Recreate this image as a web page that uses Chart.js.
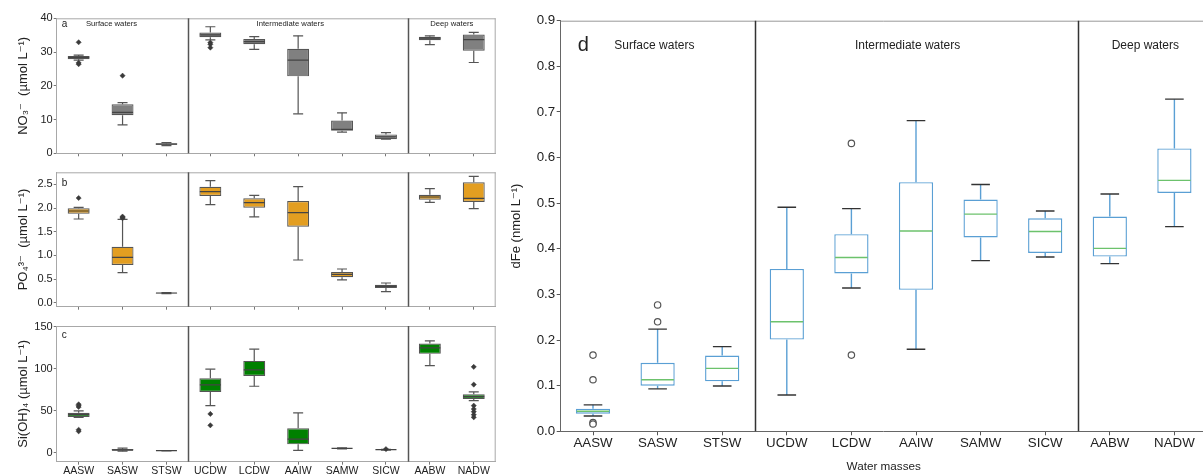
<!DOCTYPE html>
<html><head><meta charset="utf-8">
<script src="https://cdn.jsdelivr.net/npm/chart.js@4.4.1/dist/chart.umd.min.js"></script>
<style>
html,body{margin:0;padding:0;background:#fff;width:1203px;height:474px;overflow:hidden;position:relative}
canvas{position:absolute}
</style></head><body>
<canvas id="ca" width="520" height="165" style="left:0;top:0"></canvas>
<canvas id="cb" width="520" height="155" style="left:0;top:162px"></canvas>
<canvas id="cc" width="520" height="158" style="left:0;top:316px"></canvas>
<canvas id="cd" width="720" height="474" style="left:500px;top:0"></canvas>
<script>
const FONT = "'Liberation Sans', Arial, 'DejaVu Sans', sans-serif";
const categories = ['AASW','SASW','STSW','UCDW','LCDW','AAIW','SAMW','SICW','AABW','NADW'];
const groupLabels = ['Surface waters','Intermediate waters','Deep waters'];

// Panel a: NO3- (µmol/L)
const no3Low    = [27.6, 8.4, 2.3, 33.6, 30.8, 11.7, 6.3, 4.2, 32.2, 26.9];
const no3Q1     = [27.9, 11.3, 2.5, 34.4, 32.3, 22.8, 6.7, 4.2, 33.5, 30.4];
const no3Median = [28.4, 12.1, 2.7, 35.1, 33.1, 27.6, 7.1, 4.9, 34.1, 33.7];
const no3Q3     = [28.8, 14.5, 3.0, 35.8, 33.9, 31.0, 9.7, 5.6, 34.5, 35.2];
const no3High   = [29.1, 15.0, 3.2, 37.5, 34.6, 34.8, 12.0, 6.1, 34.8, 35.8];
const no3Outliers = [[32.9, 26.8, 26.4], [23.0], [], [32.8, 32.3, 31.3], [], [], [], [], [], []];
const no3Ticks = [0, 10, 20, 30, 40];

// Panel b: PO4 3- (µmol/L)
const po4Low    = [1.768, 0.634, 0.19, 2.071, 1.811, 0.902, 0.480, 0.233, 2.121, 1.986];
const po4Q1     = [1.880, 0.796, 0.195, 2.254, 2.007, 1.606, 0.536, 0.311, 2.176, 2.128];
const po4Median = [1.937, 0.959, 0.205, 2.345, 2.113, 1.902, 0.600, 0.346, 2.233, 2.206];
const po4Q3     = [1.994, 1.183, 0.21, 2.451, 2.205, 2.149, 0.649, 0.380, 2.282, 2.544];
const po4High   = [2.015, 1.762, 0.215, 2.578, 2.269, 2.451, 0.712, 0.416, 2.409, 2.670];
const po4Outliers = [[2.212], [1.82, 1.80, 1.785], [], [], [], [], [], [], [], []];
const po4Ticks = [0, 0.5, 1.0, 1.5, 2.0, 2.5];

// Panel c: Si(OH)4 (µmol/L)
const siLow    = [42.0, 1.8, 2.4, 56.1, 79.2, 2.8, 4.6, 3.2, 103.8, 62.0];
const siQ1     = [42.6, 2.6, 2.4, 72.4, 91.5, 10.0, 5.0, 3.4, 117.8, 64.1];
const siMedian = [45.3, 3.2, 2.4, 80.8, 98.7, 16.3, 5.2, 3.6, 124.9, 66.8];
const siQ3     = [47.7, 4.5, 2.4, 88.8, 109.4, 29.1, 5.4, 3.8, 130.1, 69.7];
const siHigh   = [49.8, 5.5, 2.4, 99.5, 123.4, 47.4, 5.8, 4.0, 133.3, 72.4];
const siOutliers = [[57.7, 56.1, 54.5, 27.4, 25.5], [], [], [46.2, 32.7], [], [], [], [4.3], [], [102.3, 81.2, 56.1, 52.1, 48.9, 45.3, 42.2]];
const siTicks = [0, 50, 100, 150];

// Panel d: dFe (nmol/L)
const dfeLow    = [0.0336, 0.093, 0.0993, 0.0796, 0.314, 0.180, 0.374, 0.382, 0.3676, 0.4487];
const dfeQ1     = [0.0386, 0.100, 0.1096, 0.201, 0.346, 0.310, 0.425, 0.391, 0.383, 0.5226];
const dfeMedian = [0.044, 0.113, 0.138, 0.240, 0.381, 0.439, 0.476, 0.438, 0.401, 0.550];
const dfeQ3     = [0.0496, 0.150, 0.166, 0.356, 0.432, 0.546, 0.508, 0.467, 0.4706, 0.620];
const dfeHigh   = [0.058, 0.224, 0.1856, 0.491, 0.488, 0.681, 0.541, 0.483, 0.520, 0.728];
const dfeOutliers = [[0.167, 0.113, 0.019, 0.016], [0.277, 0.240], [], [], [0.631, 0.167], [], [], [], [], []];
const dfeTicks = [0, 0.1, 0.2, 0.3, 0.4, 0.5, 0.6, 0.7, 0.8, 0.9];

function boxDatasets(s, st) {
  const outPts = [];
  s.out.forEach((arr, i) => arr.forEach(v => outPts.push({x: categories[i], y: v})));
  const pt = (data, r, color, w) => ({type:'line', data, showLine:false, pointStyle:'line',
    pointRadius:r, pointHoverRadius:r, pointBorderColor:color, pointBorderWidth:w, pointBackgroundColor:color});
  const bar = (data, extra) => Object.assign({type:'bar', data, grouped:false, categoryPercentage:1,
    borderSkipped:false}, extra);
  return [
    {type:'line', data: outPts, showLine:false, pointStyle: st.outStyle, pointRadius: st.outR,
     pointHoverRadius: st.outR, pointBackgroundColor: st.outFill, pointBorderColor: st.outEdge,
     pointBorderWidth: st.outBW},
    pt(s.med, st.medR, st.medColor, st.medW),
    pt(s.lo, st.capR, st.capColor, st.capW),
    pt(s.hi, st.capR, st.capColor, st.capW),
    bar(s.q1.map((v, i) => [v, s.q3[i]]), {backgroundColor: st.fill, borderColor: st.edge,
      borderWidth: st.edgeW, barPercentage: st.boxPct}),
    bar(s.lo.map((v, i) => [v, s.q1[i]]), {backgroundColor: st.whisk, borderWidth:0,
      barPercentage:0.2, maxBarThickness: st.whiskW}),
    bar(s.q3.map((v, i) => [v, s.hi[i]]), {backgroundColor: st.whisk, borderWidth:0,
      barPercentage:0.2, maxBarThickness: st.whiskW})
  ];
}

function decor(o) {
  return {
    id: 'decor',
    afterDatasetsDraw(chart) {
      const {ctx, chartArea: a, scales: {x}} = chart;
      ctx.save();
      ctx.strokeStyle = o.frameColor; ctx.lineWidth = 1;
      ctx.beginPath();
      ctx.moveTo(a.left, a.top + 0.5); ctx.lineTo(a.right, a.top + 0.5);
      ctx.moveTo(a.right - 0.5, a.top); ctx.lineTo(a.right - 0.5, a.bottom);
      ctx.stroke();
      ctx.strokeStyle = o.sepColor; ctx.lineWidth = o.sepW;
      [2.5, 7.5].forEach(v => {
        const px = Math.round(x.getPixelForValue(v)) + 0.5;
        ctx.beginPath(); ctx.moveTo(px, a.top); ctx.lineTo(px, a.bottom); ctx.stroke();
      });
      ctx.fillStyle = '#222';
      ctx.textBaseline = 'middle';
      if (o.letter) {
        ctx.font = o.letterFont + 'px ' + FONT;
        ctx.textAlign = 'left';
        ctx.fillText(o.letter, a.left + o.letterDx, a.top + o.letterDy);
      }
      if (o.groups) {
        ctx.font = o.groupFont + 'px ' + FONT;
        ctx.textAlign = 'center';
        o.groupPos.forEach((v, i) => ctx.fillText(groupLabels[i], x.getPixelForValue(v), a.top + o.groupDy));
      }
      ctx.restore();
    }
  };
}

function makeChart(id, s, st, o) {
  new Chart(document.getElementById(id), {
    type: 'bar',
    data: { labels: categories, datasets: boxDatasets(s, st) },
    options: {
      responsive: false, animation: false, devicePixelRatio: 1,
      layout: { autoPadding: false, padding: { left: 0, top: o.padTop, right: o.padRight, bottom: 0 } },
      plugins: { legend: { display: false }, tooltip: { enabled: false } },
      scales: {
        x: { type: 'category', offset: true,
          grid: { offset: false, drawOnChartArea: false, drawTicks: true, tickLength: o.xTickLen, color: o.tickColor },
          border: { display: true, color: o.xBorder, width: 1 },
          ticks: { display: o.showX, font: { family: FONT, size: o.xFont }, color: '#222', padding: o.xPad,
                   maxRotation: 0, autoSkip: false },
          title: o.xTitle ? { display: true, text: o.xTitle, font: { family: FONT, size: o.xTitleFont }, color: '#222',
                   padding: { top: 0, bottom: 0 } } : { display: false },
          afterFit: sc => { sc.height = o.xHeight; } },
        y: { type: 'linear', min: o.min, max: o.max,
          afterBuildTicks: sc => { sc.ticks = o.ticks.map(v => ({ value: v })); },
          grid: { drawOnChartArea: false, drawTicks: true, tickLength: o.yTickLen, color: o.tickColor },
          border: { display: true, color: o.yBorder, width: 1 },
          ticks: { font: { family: FONT, size: o.yFont }, color: '#222', padding: o.yPad, callback: v => o.fmt(v) },
          title: { display: true, text: o.yTitle, font: { family: FONT, size: o.yTitleFont }, color: '#222',
                   padding: { top: o.yTitlePad, bottom: 0 } },
          afterFit: sc => { sc.width = o.yWidth; } }
      }
    },
    plugins: [decor(o)]
  });
}

const leftStyle = (fill) => ({ fill, edge: '#555', edgeW: 1.2, boxPct: 0.5, medR: 10.5, medColor: '#444', medW: 1.2,
  capR: 5, capColor: '#555', capW: 1.2, whisk: '#555', whiskW: 1.2,
  outStyle: 'rectRot', outR: 2.6, outFill: '#3a3a3a', outEdge: '#3a3a3a', outBW: 0.5 });

const leftOpts = {
  padRight: 24.3, yWidth: 56.7, xTickLen: 3, yTickLen: 3, tickColor: '#777', xBorder: '#a8a8a8', yBorder: '#a8a8a8',
  frameColor: '#a8a8a8', sepColor: '#555', sepW: 1.5, xFont: 10.5, xPad: 0, yFont: 11, yPad: 1,
  yTitleFont: 13, yTitlePad: 15.2, letterFont: 10, letterDx: 5, letterDy: 6
};

makeChart('ca', { lo: no3Low, q1: no3Q1, med: no3Median, q3: no3Q3, hi: no3High, out: no3Outliers },
  leftStyle('#808080'),
  Object.assign({}, leftOpts, { padTop: 18.3, xHeight: 11.7, showX: false, min: 0, max: 40, ticks: no3Ticks,
    fmt: v => String(Math.round(v)), yTitle: 'NO\u2083\u207B  (\u00B5mol L\u207B\u00B9)', letter: 'a',
    groups: true, groupFont: 7.7, groupPos: [0.75, 4.82, 8.5], groupDy: 6 }));

makeChart('cb', { lo: po4Low, q1: po4Q1, med: po4Median, q3: po4Q3, hi: po4High, out: po4Outliers },
  leftStyle('#e39e21'),
  Object.assign({}, leftOpts, { padTop: 10.3, xHeight: 10.3, showX: false, min: -0.085, max: 2.755, ticks: po4Ticks,
    fmt: v => v.toFixed(1), yTitle: 'PO\u2084\u00B3\u207B  (\u00B5mol L\u207B\u00B9)', letter: 'b', letterDy: 11 }));

makeChart('cc', { lo: siLow, q1: siQ1, med: siMedian, q3: siQ3, hi: siHigh, out: siOutliers },
  leftStyle('#008000'),
  Object.assign({}, leftOpts, { padTop: 10, xHeight: 12.3, showX: true, min: -10.7, max: 151, ticks: siTicks,
    fmt: v => String(Math.round(v)), yTitle: 'Si(OH)\u2084 (\u00B5mol L\u207B\u00B9)', letter: 'c', letterDy: 9 }));

makeChart('cd', { lo: dfeLow, q1: dfeQ1, med: dfeMedian, q3: dfeQ3, hi: dfeHigh, out: dfeOutliers },
  { fill: '#ffffff', edge: '#5a9fd4', edgeW: 1.4, boxPct: 0.53, medR: 16.3, medColor: '#6cc26c', medW: 1.4,
    capR: 9.3, capColor: '#333', capW: 1.4, whisk: '#5a9fd4', whiskW: 1.4,
    outStyle: 'circle', outR: 3.2, outFill: '#ffffff', outEdge: '#555', outBW: 1.2 },
  { padTop: 20.7, padRight: 13.3, yWidth: 60.7, xHeight: 42.7, xTickLen: 4, yTickLen: 4, tickColor: '#555',
    xBorder: '#666', yBorder: '#666', frameColor: '#999', sepColor: '#333', sepW: 1.5,
    showX: true, xFont: 13.3, xPad: 0, xTitle: 'Water masses', xTitleFont: 11.7,
    yFont: 13.3, yPad: 1.5, min: 0, max: 0.9, ticks: dfeTicks, fmt: v => v.toFixed(1),
    yTitle: 'dFe (nmol L\u207B\u00B9)', yTitleFont: 13, yTitlePad: 8.2,
    letter: 'd', letterFont: 20, letterDx: 17, letterDy: 25,
    groups: true, groupFont: 12, groupPos: [0.95, 4.87, 8.55], groupDy: 25 });
</script>
</body></html>
